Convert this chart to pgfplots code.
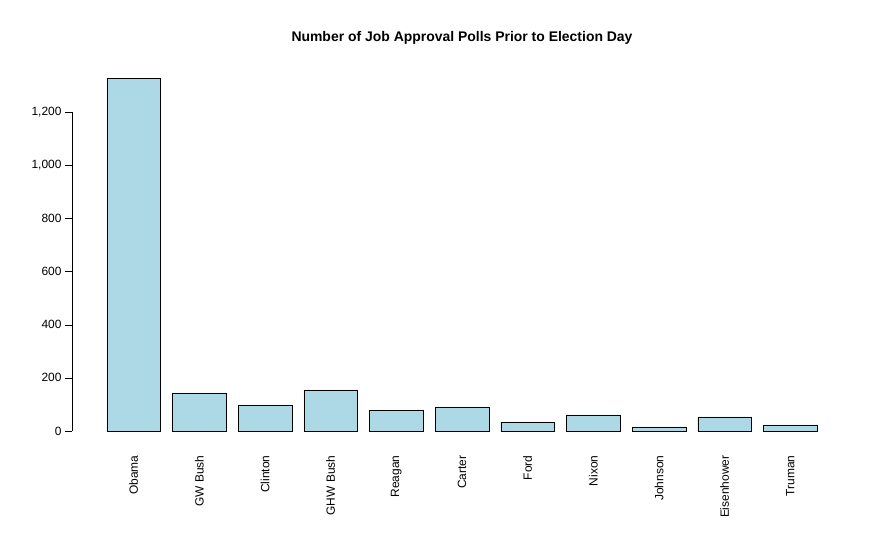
\documentclass[border=0pt]{standalone}
\usepackage{pgfplots}
\pgfplotsset{compat=1.18}
\usepackage{fontspec}
\setmainfont{Liberation Sans}
\definecolor{lb}{HTML}{ADD8E6}
\begin{document}
\begin{tikzpicture}[x=1bp,y=1bp]
\useasboundingbox (0,0) rectangle (886,533);
\begin{axis}[at={(72bp,88bp)},anchor=south west,scale only axis,
 width=780bp,height=381bp,
 xmin=-0.94,xmax=10.94,ymin=-53,ymax=1381,
 axis lines=left,
 axis line style={draw=none,-},
 ybar,bar width=0.82,
 xtick=data,
 xtick style={draw=none},
 ytick style={draw=black},
 major tick length=7bp,
 xticklabels={Obama,GW Bush,Clinton,GHW Bush,Reagan,Carter,Ford,Nixon,Johnson,Eisenhower,Truman},
 xticklabel style={rotate=90,anchor=east,font=\fontsize{12}{12}\selectfont},
 ytick={0,200,...,1200},
 yticklabel style={font=\fontsize{12}{12}\selectfont},
 /pgf/number format/assume math mode=true,
 tick align=outside,
 clip=false]
\addplot[fill=lb,draw=black] coordinates {(0,1328)(1,143)(2,98)(3,154)(4,79)(5,90)(6,34)(7,60)(8,15)(9,53)(10,23)};
\draw (axis cs:-0.94,0)--(axis cs:-0.94,1200);
\node[font=\bfseries\fontsize{14}{14}\selectfont] at (axis cs:5,1480) {Number of Job Approval Polls Prior to Election Day};
\end{axis}
\end{tikzpicture}
\end{document}
